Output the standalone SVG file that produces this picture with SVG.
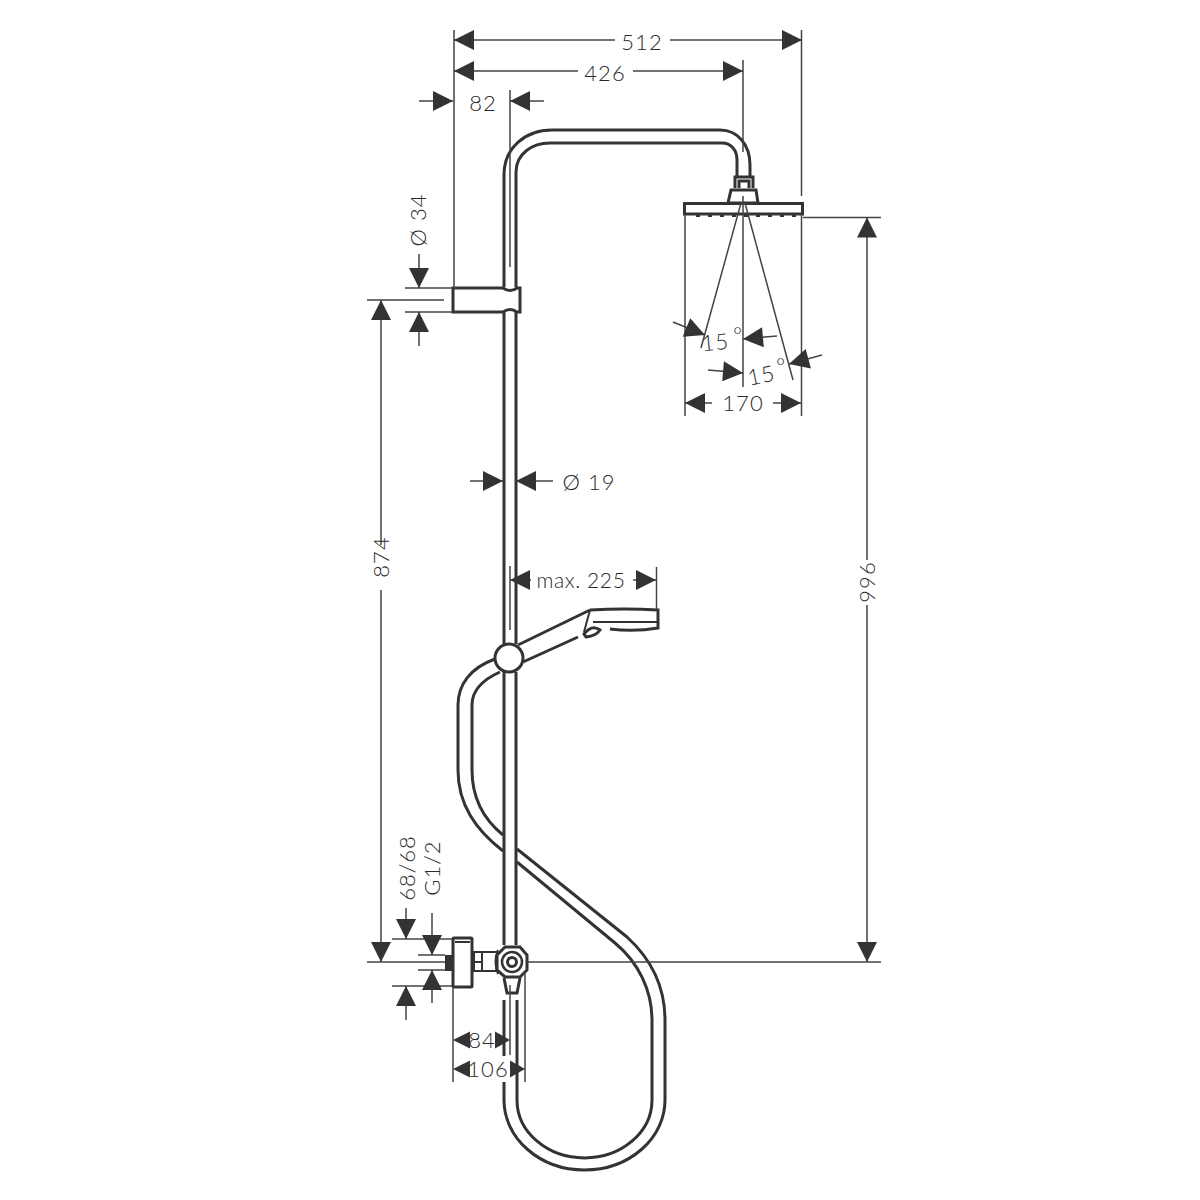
<svg xmlns="http://www.w3.org/2000/svg" width="1200" height="1200" viewBox="0 0 1200 1200">
<style>
.t{fill:none;stroke:#333;stroke-width:3}
.m{fill:none;stroke:#333;stroke-width:2}
.d{fill:none;stroke:#444;stroke-width:1.5}
.a{fill:none;stroke:#444;stroke-width:1.5;marker-end:url(#ah)}
.w{fill:#fff;stroke:#333;stroke-width:3;stroke-linejoin:round}
.f{fill:#333}
text{font-family:"Lato","Liberation Sans",sans-serif;font-size:22px;fill:#2a2a2a;text-anchor:middle;letter-spacing:1px;font-weight:300}
.s{font-size:21px;letter-spacing:0.6px}
</style>
<defs>
<marker id="ah" markerUnits="userSpaceOnUse" markerWidth="20" markerHeight="20" refX="18" refY="9" orient="auto" viewBox="0 0 18 18" overflow="visible"><path d="M0 0L18 9L0 18Z" fill="#333"/></marker>
</defs>
<rect width="1200" height="1200" fill="#fff"/>
<g id="hose">
<path class="t" d="M495 659C470 668 458 685 458 705V770C458 805 476 830 503 851"/>
<path class="t" d="M500 672C482 680 472 690 472 705V770C472 795 482 818 503 835"/>
<path class="t" d="M517 849L627 937C650 958 665 985 665 1020V1100A80.500 70 0 0 1 504 1100V1082"/>
<path class="t" d="M517 862L615 943C638 962 652 990 652 1020V1100A67.500 58 0 0 1 517 1100V1000"/>
<path class="t" d="M504 1056V1000"/>
</g>
<g id="rail">
<path class="t" d="M504 287V175C504 148 525 130 552 130H720C738 130 750 145 750 165V178"/>
<path class="t" d="M516 287V172C516 154 532 143 550 143H722C731 143 737 150 737 160V178"/>
<path class="t" d="M504 312V644M516 312V644M504 672V945M516 672V945"/>
<path class="d" d="M510 90V267M510 566V630"/>
</g>
<g id="bracket">
<path class="t" d="M453 288H503Q510 293 517 288H520V312H517Q510 307 503 312H453Z"/>
</g>
<g id="head">
<path class="t" d="M735 188V177H753V188M739 188V181H749V188"/>
<path class="t" d="M731 190H756L758 203H728Z"/>
<path d="M684.500 203.500H802.500V214H684.500Z" fill="#fff" stroke="#333" stroke-width="3"/>
<path d="M696 215.500H798" fill="none" stroke="#333" stroke-width="3" stroke-dasharray="4 8"/>
</g>
<g id="hand-shower">
<path class="t" d="M518 645L590 610M523 662L578 637"/>
<path class="t" d="M590 610Q625 608 658 610V628Q635 632 610 629"/>
<path class="m" d="M590 610L584 632M593 622H658"/>
<path d="M584 634Q592 624 600 630Q596 636 586 637Z" fill="#fff" stroke="#333" stroke-width="3"/>
<circle class="w" cx="509" cy="658" r="14"/>
</g>
<g id="valve">
<path d="M445 955H453V971H445Z" class="f"/>
<rect class="w" x="453" y="938" width="19" height="49" rx="1"/>
<path class="m" d="M455 942H470"/>
<path class="m" d="M472 952H498M472 971H498M474 952V971M482 952V971M474 962H482"/>
<path class="m" d="M498 950Q493 962 498 974"/>
<path d="M505 947H520L527 955V970L520 977H505L497 970V955Z" fill="#fff" stroke="#333" stroke-width="3"/>
<circle cx="512" cy="962" r="10" fill="#fff" stroke="#333" stroke-width="2.500"/>
<circle cx="512" cy="962" r="4.500" fill="#fff" stroke="#333" stroke-width="3"/>
<path class="t" d="M504 978L507 993H517L520 978"/>
<path class="d" d="M510 985V1055"/>
</g>
<g id="connectors">
<path class="d" d="M454 30V288M801.500 30V196M743 60V152M743 196V387M685 214V416M801.500 214V416"/>
<path class="d" d="M803 217.500H881"/>
<path class="d" d="M741 203L701 348M745 203L793 380"/>
<path class="a" d="M615 40H454"/><path class="a" d="M670 40H802"/>
<path class="a" d="M578 71H454"/><path class="a" d="M633 71H743"/>
<path class="a" d="M419 101H453"/><path class="a" d="M544 101H510"/>
<path class="d" d="M405 288H452M405 312H452M367 300H444"/>
<path class="a" d="M419 254V288"/><path class="a" d="M419 346V312"/>
<path class="a" d="M381 545V300"/><path class="a" d="M381 590V962"/>
<path class="a" d="M470 481H503"/><path class="a" d="M553 481H516"/>
<path class="a" d="M531 580H510"/>
<path class="d" d="M656.500 567V609"/>
<path class="a" d="M633 580H656"/>
<path class="a" d="M673 322L705 335"/><path class="a" d="M777 336L743 339"/><path class="a" d="M708 370L743 373"/><path class="a" d="M822 355L789 364"/>
<path class="a" d="M712 403H685"/><path class="a" d="M773 403H801"/>
<path class="a" d="M867 560V217.500"/><path class="a" d="M867 605V962"/>
<path class="d" d="M392 939H452M392 986H452M418 955H445M418 970H445M367 962H445M527 962H881"/>
<path class="a" d="M406 908V939"/><path class="a" d="M406 1020V986"/><path class="a" d="M432 913V955"/><path class="a" d="M432 1003V970"/>
<path class="d" d="M453 987V1082M525 972V1082"/>
<path d="M453 1040L470 1031.500V1048.500Z" class="f"/>
<path d="M510 1040L495 1031.500V1048.500Z" class="f"/>
<path d="M453 1069L470 1060.500V1077.500Z" class="f"/>
<path d="M525 1069L510 1060.500V1077.500Z" class="f"/>
</g>
<g id="labels">
<text x="642" y="50">512</text>
<text x="605" y="81">426</text>
<text x="483" y="111">82</text>
<text transform="translate(426 220) rotate(-90)" x="0" y="0">Ø 34</text>
<text x="589" y="490">Ø 19</text>
<text class="s" x="581" y="588">max. 225</text>
<text transform="translate(389 557) rotate(-90)" x="0" y="0">874</text>
<text transform="translate(875 582) rotate(-90)" x="0" y="0">996</text>
<text x="743" y="411">170</text>
<text transform="translate(716 350) rotate(-5)" x="0" y="0">15</text>
<text x="738" y="343">°</text>
<text transform="translate(763 383) rotate(-12)" x="0" y="0">15</text>
<text x="781" y="374">°</text>
<text transform="translate(415 868) rotate(-90)" x="0" y="0">68/68</text>
<text transform="translate(440 868) rotate(-90)" x="0" y="0">G1/2</text>
<text x="482" y="1048">84</text>
<text x="488" y="1077">106</text>
</g>
</svg>
